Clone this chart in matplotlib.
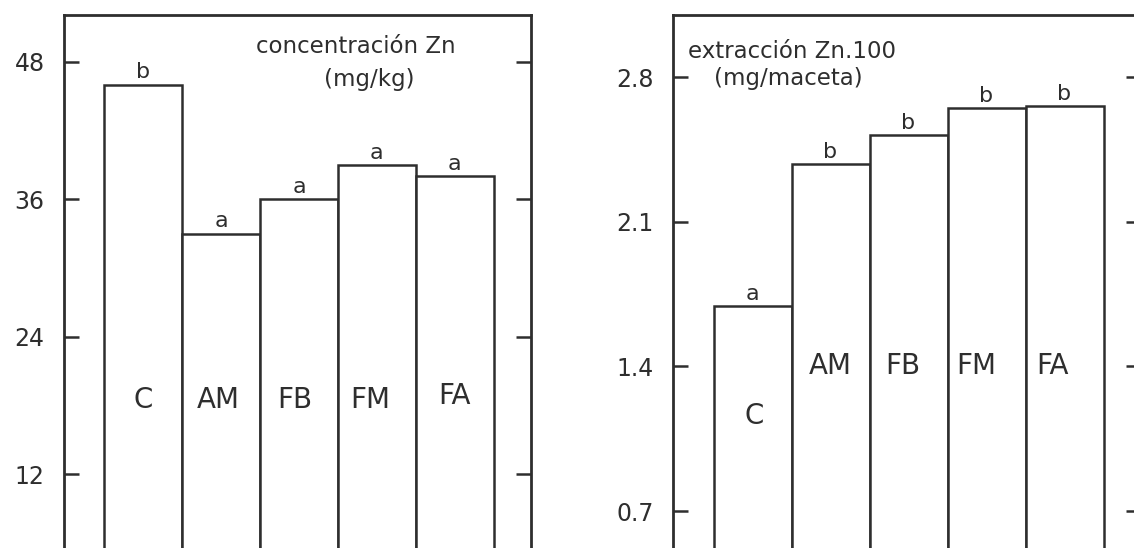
import matplotlib
matplotlib.use("Agg")
import matplotlib.pyplot as plt

# ---- data ----
categories = ["C", "AM", "FB", "FM", "FA"]
conc_values = [46.0, 33.0, 36.0, 39.0, 38.0]
conc_letters = ["b", "a", "a", "a", "a"]
conc_ticks = [12, 24, 36, 48]
extr_values = [1.69, 2.38, 2.52, 2.65, 2.66]
extr_letters = ["a", "b", "b", "b", "b"]
extr_ticks = [0.7, 1.4, 2.1, 2.8]

# ---- style ----
INK = "#2e2e2e"
plt.rcParams["font.family"] = ["DejaVu Sans"]

W, H = 1134, 548
fig = plt.figure(figsize=(W / 100, H / 100), dpi=100)
fig.patch.set_facecolor("white")

ax1 = fig.add_axes([64 / W, 0, 467 / W, 533 / H])
ax2 = fig.add_axes([673 / W, 0, 468 / W, 533 / H])


def style_axes(ax, ylim, ticks, ticklabels):
    ax.set_xlim(-1.02, 4.98)
    ax.set_ylim(*ylim)
    ax.set_xticks([])
    ax.set_yticks(ticks)
    ax.set_yticklabels(ticklabels)
    ax.tick_params(axis="y", direction="in", length=11, width=1.8,
                   color=INK, labelsize=17, labelcolor=INK, pad=14,
                   left=True, right=True, labelleft=True, labelright=False)
    for side in ("left", "right", "top"):
        ax.spines[side].set_linewidth(2.0)
        ax.spines[side].set_color(INK)
    ax.spines["bottom"].set_visible(False)


def draw_bars(ax, values, letters, label_y, label_dx, letter_size=16):
    x = list(range(len(categories)))
    ax.bar(x, values, width=1.0, facecolor="white", edgecolor=INK,
           linewidth=1.8, zorder=2)
    for i, (v, let) in enumerate(zip(values, letters)):
        ax.annotate(let, (i, v), xytext=(0, 4.5), textcoords="offset points",
                    ha="center", va="baseline", fontsize=letter_size,
                    color=INK, zorder=3)
    for i, cat in enumerate(categories):
        ax.text(i + label_dx[i], label_y[i], cat, ha="center", va="center",
                fontsize=20, color=INK, zorder=3)


# left panel: concentration
style_axes(ax1, (5.56, 52.08), conc_ticks, [str(t) for t in conc_ticks])
draw_bars(ax1, conc_values, conc_letters,
          label_y=[18.5, 18.5, 18.5, 18.5, 18.8],
          label_dx=[0.0, -0.04, -0.06, -0.09, 0.0])
ax1.text(0.625, 0.9287, "concentración Zn", transform=ax1.transAxes,
         ha="center", va="baseline", fontsize=16.5, color=INK)
ax1.text(0.653, 0.8668, "(mg/kg)", transform=ax1.transAxes,
         ha="center", va="baseline", fontsize=16.5, color=INK)

# right panel: extraction
style_axes(ax2, (0.521, 3.10), extr_ticks, [f"{t:.1f}" for t in extr_ticks])
draw_bars(ax2, extr_values, extr_letters,
          label_y=[1.16, 1.40, 1.40, 1.40, 1.40],
          label_dx=[0.02, 0.0, -0.08, -0.13, -0.16])
ax2.text(0.032, 0.919, "extracción Zn.100", transform=ax2.transAxes,
         ha="left", va="baseline", fontsize=16.5, color=INK)
ax2.text(0.0876, 0.8687, "(mg/maceta)", transform=ax2.transAxes,
         ha="left", va="baseline", fontsize=16.5, color=INK)

fig.savefig("out.png", dpi=100, facecolor="white")
